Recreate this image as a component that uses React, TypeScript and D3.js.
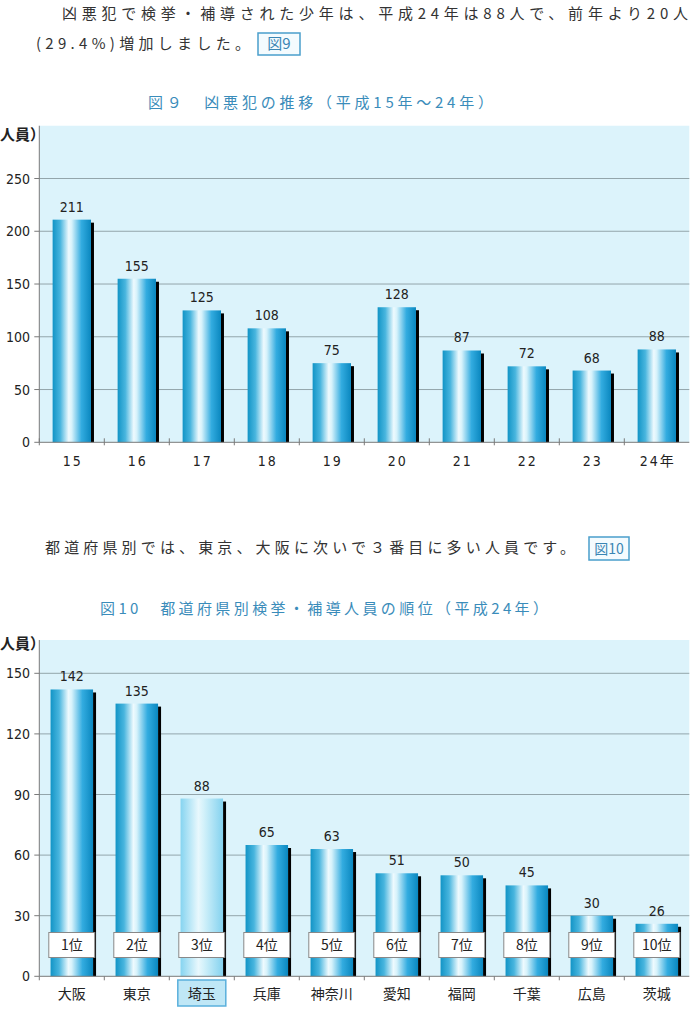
import React from 'react';
import * as d3 from 'd3';

const years = ['15', '16', '17', '18', '19', '20', '21', '22', '23', '24年'];
const cases = [211, 155, 125, 108, 75, 128, 87, 72, 68, 88];
const ticks1 = [0, 50, 100, 150, 200, 250];

const prefs = ['大阪', '東京', '埼玉', '兵庫', '神奈川', '愛知', '福岡', '千葉', '広島', '茨城'];
const prefCounts = [142, 135, 88, 65, 63, 51, 50, 45, 30, 26];
const ranks = ['1位', '2位', '3位', '4位', '5位', '6位', '7位', '8位', '9位', '10位'];
const ticks2 = [0, 30, 60, 90, 120, 150];
const highlight = '埼玉';

const JP = '"Noto Sans CJK JP", "Noto Sans", sans-serif';
const NUM = '"Liberation Sans Narrow", "DejaVu Sans Condensed", "Noto Sans CJK JP", sans-serif';
const TEXT = '#333';
const TITLE = '#3a8cba';
const PLOT_BG = '#dcf3fb';
const GRID = '#93a5ab';
const AXIS = '#7a7a7a';

const W = 690;
const H = 1015;
const left = 39.3;
const right = 689.3;

// chart 1 scales
const x1 = d3.scaleBand<string>().domain(years).range([left, right]).paddingInner(0.41).paddingOuter(0.205);
const y1 = d3.scaleLinear().domain([0, 250]).range([442.3, 178.5]);
const top1 = y1(300);

// chart 2 scales
const x2 = d3.scaleBand<string>().domain(prefs).range([left, right]).paddingInner(0.346).paddingOuter(0.173);
const y2 = d3.scaleLinear().domain([0, 150]).range([976.3, 673.3]);
const top2 = 640;

const Bar = ({ x, y, w, h, fill }: { x: number; y: number; w: number; h: number; fill: string }) => (
  <g>
    <rect x={x + w} y={y + 3} width={3} height={h - 3} fill="#000" />
    <rect x={x} y={y} width={w} height={h} fill={fill} />
  </g>
);

const BoxLabel = ({ x, y, w, h, text, size }: { x: number; y: number; w: number; h: number; text: string; size: number }) => (
  <g>
    <rect x={x} y={y} width={w} height={h} fill="#f4fbfe" stroke="#4a9fcc" strokeWidth={1.5} />
    <text x={x + w / 2} y={y + h / 2 + size * 0.36} textAnchor="middle" fontSize={size} fill="#3a86b4" fontFamily={JP}>
      {text}
    </text>
  </g>
);

export default function App() {
  const bw1 = x1.bandwidth();
  const bw2 = x2.bandwidth();
  return (
    <svg width={W} height={H} style={{ position: 'absolute', left: 0, top: 0, background: '#fff' }}>
      <defs>
        <linearGradient id="barGrad" x1="0" x2="1" y1="0" y2="0">
          <stop offset="0%" stopColor="#1294c6" />
          <stop offset="20%" stopColor="#48b5de" />
          <stop offset="42%" stopColor="#eefafe" />
          <stop offset="50%" stopColor="#d6f2fb" />
          <stop offset="75%" stopColor="#33ace0" />
          <stop offset="100%" stopColor="#0a87bf" />
        </linearGradient>
        <linearGradient id="barGradLight" x1="0" x2="1" y1="0" y2="0">
          <stop offset="0%" stopColor="#86d4f0" />
          <stop offset="42%" stopColor="#e8f8fd" />
          <stop offset="55%" stopColor="#d2f1fa" />
          <stop offset="100%" stopColor="#84d2ef" />
        </linearGradient>
      </defs>

      {/* intro text */}
      <text x={62} y={19} fontSize={15} fill={TEXT} fontFamily={JP} textLength={626} lengthAdjust="spacing">
        凶悪犯で検挙・補導された少年は、平成24年は88人で、前年より20人
      </text>
      <text x={36} y={49} fontSize={15} fill={TEXT} fontFamily={JP} textLength={214} lengthAdjust="spacing">
        (29.4%)増加しました。
      </text>
      <BoxLabel x={258} y={33} w={42} h={22} text="図9" size={15} />

      <text x={148} y={108} fontSize={15} fill={TITLE} fontFamily={JP} textLength={345} lengthAdjust="spacing">
        図９　凶悪犯の推移（平成15年～24年）
      </text>

      {/* chart 1 */}
      <rect x={left} y={top1} width={right - left} height={y1(0) - top1} fill={PLOT_BG} />
      {ticks1.filter((t) => t > 0).map((t) => (
        <line key={t} x1={left} x2={right} y1={y1(t)} y2={y1(t)} stroke={GRID} strokeWidth={1} />
      ))}
      {ticks1.map((t) => (
        <g key={t}>
          <line x1={left - 5} x2={left} y1={y1(t)} y2={y1(t)} stroke={AXIS} />
          <text x={30} y={y1(t) + 5} textAnchor="end" fontSize={14} fill="#222" fontFamily={NUM}>
            {t}
          </text>
        </g>
      ))}
      <text x={0} y={140} fontSize={15} fill="#222" fontFamily={JP} fontWeight={700}>
        人員）
      </text>
      {years.map((c, i) => {
        const bx = x1(c) as number;
        const by = y1(cases[i]);
        return (
          <g key={c}>
            <Bar x={bx} y={by} w={bw1} h={y1(0) - by} fill="url(#barGrad)" />
            <text x={bx + bw1 / 2} y={by - 8} textAnchor="middle" fontSize={14} fill="#222" fontFamily={NUM}>
              {cases[i]}
            </text>
            <text x={bx + bw1 / 2 + 1} y={466} textAnchor="middle" fontSize={14} fill="#222" fontFamily={NUM} letterSpacing={2}>
              {c}
            </text>
          </g>
        );
      })}
      <line x1={left} x2={left} y1={top1} y2={y1(0)} stroke={AXIS} />
      <line x1={left} x2={right} y1={y1(0)} y2={y1(0)} stroke={AXIS} />
      {years.map((c) => (
        <line key={c} x1={(x1(c) as number) - x1.step() * 0.205} x2={(x1(c) as number) - x1.step() * 0.205}
          y1={y1(0) - 4} y2={y1(0) + 3} stroke={AXIS} />
      ))}

      {/* middle text */}
      <text x={45} y={553} fontSize={15} fill={TEXT} fontFamily={JP} textLength={530} lengthAdjust="spacing">
        都道府県別では、東京、大阪に次いで３番目に多い人員です。
      </text>
      <BoxLabel x={589} y={537} w={40} h={23} text="図10" size={14} />

      <text x={100} y={614} fontSize={15} fill={TITLE} fontFamily={JP} textLength={448} lengthAdjust="spacing">
        図10　都道府県別検挙・補導人員の順位（平成24年）
      </text>

      {/* chart 2 */}
      <rect x={left} y={top2} width={right - left} height={y2(0) - top2} fill={PLOT_BG} />
      {ticks2.filter((t) => t > 0).map((t) => (
        <line key={t} x1={left} x2={right} y1={y2(t)} y2={y2(t)} stroke={GRID} strokeWidth={1} />
      ))}
      {ticks2.map((t) => (
        <g key={t}>
          <line x1={left - 5} x2={left} y1={y2(t)} y2={y2(t)} stroke={AXIS} />
          <text x={30} y={y2(t) + 5} textAnchor="end" fontSize={14} fill="#222" fontFamily={NUM}>
            {t}
          </text>
        </g>
      ))}
      <text x={0} y={649} fontSize={15} fill="#222" fontFamily={JP} fontWeight={700}>
        人員）
      </text>
      {prefs.map((c, i) => {
        const bx = x2(c) as number;
        const by = y2(prefCounts[i]);
        const cx = bx + bw2 / 2;
        return (
          <g key={c}>
            <Bar x={bx} y={by} w={bw2} h={y2(0) - by} fill={c === highlight ? 'url(#barGradLight)' : 'url(#barGrad)'} />
            <text x={cx} y={by - 8} textAnchor="middle" fontSize={14} fill="#222" fontFamily={NUM}>
              {prefCounts[i]}
            </text>
            <rect x={cx - 23} y={932.5} width={46} height={25} fill="#fff" stroke="#888" strokeWidth={1} />
            <text x={cx} y={950} textAnchor="middle" fontSize={14} fill="#222" fontFamily={JP}>
              {ranks[i]}
            </text>
            {c === highlight && (
              <rect x={cx - 24} y={980} width={48} height={26} fill="#bfe7f6" stroke="#5ab0dc" strokeWidth={1.5} />
            )}
            <text x={cx} y={999} textAnchor="middle" fontSize={14} fill="#222" fontFamily={JP}>
              {c}
            </text>
          </g>
        );
      })}
      <line x1={left} x2={left} y1={top2} y2={y2(0)} stroke={AXIS} />
      <line x1={left} x2={right} y1={y2(0)} y2={y2(0)} stroke={AXIS} />
      {prefs.map((c) => (
        <line key={c} x1={(x2(c) as number) - x2.step() * 0.173} x2={(x2(c) as number) - x2.step() * 0.173}
          y1={y2(0)} y2={y2(0) + 4} stroke={AXIS} />
      ))}
    </svg>
  );
}
